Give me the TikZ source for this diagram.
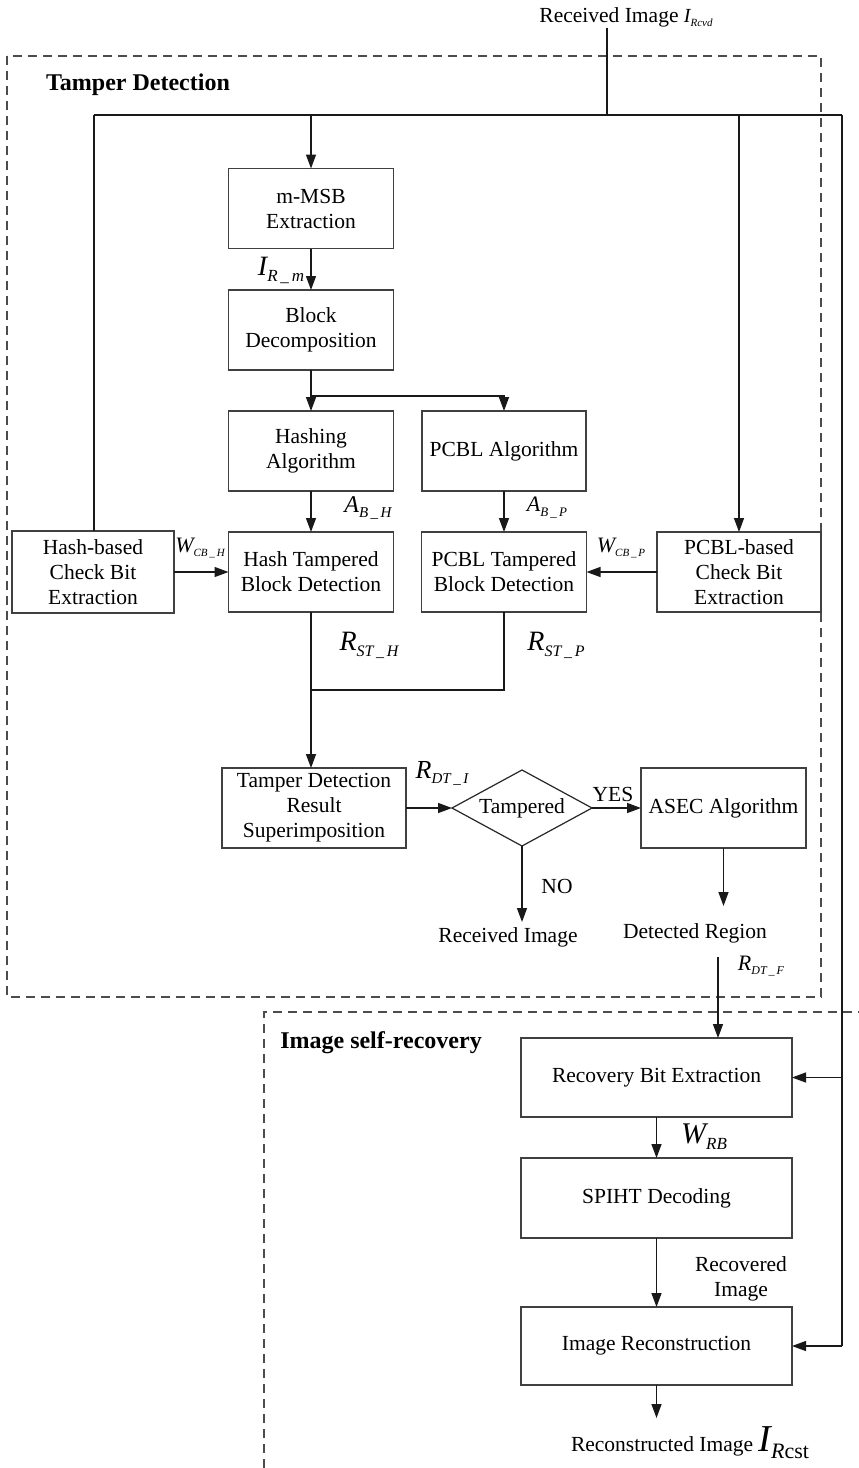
\documentclass[tikz,border=0pt]{standalone}
\usepackage{fontspec}
\setmainfont{Liberation Serif}
\usetikzlibrary{arrows.meta,shapes.geometric}
\newcommand{\mylab}[5]{{\fontsize{#3}{#3}\selectfont\itshape #1}\raisebox{-#5pt}{\fontsize{#4}{#4}\selectfont\itshape #2}}
\begin{document}
\begin{tikzpicture}[x=1pt,y=-1pt,
  every node/.style={inner sep=0pt, outer sep=0pt, font=\fontsize{21.5}{25}\selectfont},
  box/.style={draw=black!75, line width=1.3pt, align=center, minimum width=165pt, minimum height=80pt},
  widebox/.style={box, minimum width=271pt},
  diam/.style={draw=black!85, line width=1.2pt, diamond, aspect=1.84, minimum width=140pt, minimum height=76pt, inner sep=0pt},
  conn/.style={line width=1.4pt, black!90},
  arr/.style={conn, -{Triangle[length=14pt,width=10pt]}},
  frame/.style={dash pattern=on 9pt off 6pt, line width=1.1pt, black!70},
  title/.style={font=\fontsize{24}{28}\selectfont\bfseries}
]
\useasboundingbox (0,0) rectangle (859,1468);

% dashed frames
\draw[frame] (7,56) rectangle (821,997);
\draw[frame] (264,1468) -- (264,1012) -- (859,1012);
\node[title] (tdtitle) at (138,85) {Tamper Detection};
\node[title] (srtitle) at (381,1043) {Image self-recovery};

% boxes
\node[box] (mmsb) at (311,208.5) {m-MSB\\Extraction};
\node[box] (block) at (311,330) {Block\\Decomposition};
\node[box] (hashalg) at (311,451) {Hashing\\Algorithm};
\node[box, minimum width=164pt] (pcblalg) at (504,451) {PCBL Algorithm};
\node[box, minimum width=162pt, minimum height=82pt] (hashcb) at (93,572) {Hash-based\\Check Bit\\Extraction};
\node[box] (hashtb) at (311,572) {Hash Tampered\\Block Detection};
\node[box] (pcbltb) at (504,572) {PCBL Tampered\\Block Detection};
\node[box, minimum width=164pt] (pcblcb) at (739,572) {PCBL-based\\Check Bit\\Extraction};
\node[box, minimum width=184pt] (tdrs) at (314,808) {Tamper Detection\\Result\\Superimposition};
\node[diam] (dia) at (522,808) {Tampered};
\node[box] (asec) at (723.5,808) {ASEC Algorithm};
\node[widebox, minimum height=79pt] (recov) at (656.5,1077.5) {Recovery Bit Extraction};
\node[widebox] (spiht) at (656.5,1198) {SPIHT Decoding};
\node[widebox, minimum height=78pt] (imgrec) at (656.5,1346) {Image Reconstruction};

% input
\node (rcvd) at (626,17) {Received Image\ \mylab{I}{Rcvd}{20}{11}{4}};
\coordinate (inTop) at (607,28);
\coordinate (busL) at (94,115);
\coordinate (busM) at (607,115);
\coordinate (busR) at (842,115);
\draw[conn] (inTop) -- (busM);
\draw[conn] (busL) -- (busR);
\draw[conn] (busL) -- (hashcb.north -| busL);
\draw[arr] (mmsb.north |- busL) -- (mmsb.north);
\draw[arr] (pcblcb.north |- busL) -- (pcblcb.north);
\coordinate (recTap) at (842,1077.5);
\coordinate (imgTap) at (842,1346);
\draw[conn] (busR) -- (imgTap);
\draw[arr] (imgTap) -- (imgrec.east);
\draw[arr] (recTap) -- (recov.east);

% detection chain
\draw[arr] (mmsb.south) -- (block.north);
\node (irm) at (281,270) {\mylab{I}{R\,\_\,m}{28}{17}{6}};
\coordinate (split) at (311,396);
\draw[conn] (block.south) -- (split);
\draw[arr] (split) -- (hashalg.north);
\draw[arr] (split) -- (split -| pcblalg.north) -- (pcblalg.north);
\draw[arr] (hashalg.south) -- (hashtb.north);
\draw[arr] (pcblalg.south) -- (pcbltb.north);
\node (abh) at (368,508) {\mylab{A}{B\,\_\,H}{24}{15}{5}};
\node (abp) at (547,508) {\mylab{A}{B\,\_\,P}{22}{13}{5}};
\draw[arr] (hashcb.east) -- (hashtb.west);
\draw[arr] (pcblcb.west) -- (pcbltb.east);
\node (wcbh) at (200,548) {\mylab{W}{CB\,\_\,H}{22}{11}{4}};
\node (wcbp) at (621,548) {\mylab{W}{CB\,\_\,P}{22}{11}{4}};

\coordinate (join) at (311,690);
\draw[conn] (hashtb.south) -- (join);
\draw[conn] (pcbltb.south) -- (pcbltb.south |- join) -- (join);
\draw[arr] (join) -- (join |- tdrs.north);
\node (rsth) at (369,645) {\mylab{R}{ST\,\_\,H}{28}{16}{6}};
\node (rstp) at (556,645) {\mylab{R}{ST\,\_\,P}{28}{16}{6}};

\draw[arr] (tdrs.east) -- (dia.west);
\node (rdti) at (442,773) {\mylab{R}{DT\,\_\,I}{26}{15}{5}};
\draw[arr] (dia.east) -- (asec.west);
\node (yes) at (613,794) {YES};
\coordinate (noEnd) at (522,922);
\draw[arr] (dia.south) -- (noEnd);
\node (no) at (557,886) {NO};
\node (recvimg) at (508,937) {Received Image};
\coordinate (asecEnd) at (723.5,906);
\draw[arr] (asec.south) -- (asecEnd);
\node (detreg) at (695,933) {Detected Region};

% recovery chain
\coordinate (rdtfTop) at (718,957);
\draw[arr] (rdtfTop) -- (rdtfTop |- recov.north);
\node (rdtf) at (761,966) {\mylab{R}{DT\,\_\,F}{22}{12}{4}};
\draw[arr] (recov.south) -- (spiht.north);
\node (wrb) at (704,1137) {\mylab{W}{RB}{30}{17}{6}};
\draw[arr] (spiht.south) -- (imgrec.north);
\node[align=center] (recovered) at (741,1279) {Recovered\\Image};
\coordinate (outEnd) at (656.5,1418);
\draw[arr] (imgrec.south) -- (outEnd);
\node (rcst) at (690,1443) {Reconstructed Image\ {\fontsize{38}{38}\selectfont\itshape I}\raisebox{-7pt}{\fontsize{22}{22}\selectfont\textit{R}cst}};
\end{tikzpicture}
\end{document}
